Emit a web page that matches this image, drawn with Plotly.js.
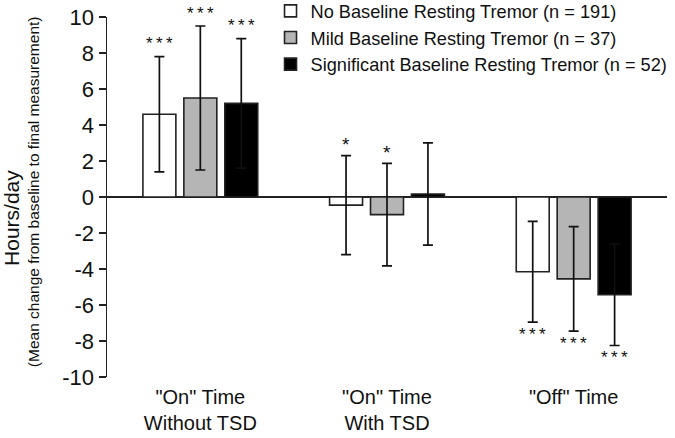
<!DOCTYPE html>
<html>
<head>
<meta charset="utf-8">
<script src="https://cdn.plot.ly/plotly-3.0.1.min.js"></script>
<style>html,body{margin:0;padding:0;background:#fff;}#chart{width:675px;height:438px;}</style>
</head>
<body>
<div id="chart"></div>
<script>
// ---- data ----
var categories = ['"On" Time<br>Without TSD', '"On" Time<br>With TSD', '"Off" Time'];
var seriesNames = [
  'No Baseline Resting Tremor (n = 191)',
  'Mild Baseline Resting Tremor (n = 37)',
  'Significant Baseline Resting Tremor (n = 52)'
];
var noTremorMean = [4.6, -0.45, -4.15];
var noTremorErr = [3.2, 2.75, 2.8];
var mildTremorMean = [5.5, -0.98, -4.55];
var mildTremorErr = [4.0, 2.85, 2.9];
var sigTremorMean = [5.2, 0.17, -5.43];
var sigTremorErr = [3.6, 2.84, 2.82];
var noTremorSig = ['***', '*', '***'];
var mildTremorSig = ['***', '*', '***'];
var sigTremorSig = ['***', '', '***'];
var sigAbove = [true, true, false];
var yTickVals = [10, 8, 6, 4, 2, 0, -2, -4, -6, -8, -10];
var yTickText = ['10', '8', '6', '4', '2', '0', '-2', '-4', '-6', '-8', '-10'];

// ---- styles ----
var fills = ['#ffffff', '#b5b5b5', '#000000'];
var FONT = '"Liberation Sans", Arial, Helvetica, sans-serif';
var bargap = 0.342, bargroupgap = 0.195;
var means = [noTremorMean, mildTremorMean, sigTremorMean];
var errs = [noTremorErr, mildTremorErr, sigTremorErr];
var sigs = [noTremorSig, mildTremorSig, sigTremorSig];
var catIdx = categories.map(function (_, i) { return i; });

var traces = means.map(function (m, j) {
  return {
    type: 'bar', name: seriesNames[j], x: catIdx, y: m,
    marker: { color: fills[j], line: { color: '#222', width: 1.6 } },
    error_y: { type: 'data', array: errs[j], visible: true, color: '#111', thickness: 1.7, width: 5 },
    hoverinfo: 'skip'
  };
});

var slot = (1 - bargap) / means.length;
var annotations = [];
means.forEach(function (m, j) {
  m.forEach(function (v, i) {
    var s = sigs[j][i];
    if (!s) return;
    var up = sigAbove[i];
    var yv = up ? v + errs[j][i] : v - errs[j][i];
    annotations.push({
      xref: 'x', yref: 'y', x: i + (j - (means.length - 1) / 2) * slot, y: yv,
      text: s.split('').join('\u2009'), showarrow: false, yanchor: 'middle',
      yshift: up ? (s.length > 1 ? 13 : 11) : -12,
      font: { family: FONT, size: s.length > 1 ? 17 : 19, color: '#111' }
    });
  });
});
annotations.push({
  xref: 'paper', yref: 'paper', x: -0.1695, y: 0.442, text: 'Hours/day', textangle: -90,
  showarrow: false, xanchor: 'center', yanchor: 'middle',
  font: { family: FONT, size: 21, color: '#111' }
});
annotations.push({
  xref: 'paper', yref: 'paper', x: -0.13, y: 0.514,
  text: '(Mean change from baseline to final measurement)', textangle: -90,
  showarrow: false, xanchor: 'center', yanchor: 'middle',
  font: { family: FONT, size: 15.5, color: '#111' }
});

var layout = {
  width: 675, height: 438,
  margin: { l: 107, r: 8, t: 17, b: 61, autoexpand: false },
  paper_bgcolor: '#fff', plot_bgcolor: '#fff',
  barmode: 'group', bargap: bargap, bargroupgap: bargroupgap,
  font: { family: FONT, color: '#111' },
  showlegend: true,
  legend: {
    x: 0.292, y: 1.068, xanchor: 'left', yanchor: 'top',
    font: { family: FONT, size: 18.2, color: '#111' },
    bgcolor: 'rgba(0,0,0,0)', itemwidth: 30, tracegroupgap: 0
  },
  xaxis: {
    range: [-0.5, 2.5], tickvals: catIdx, ticktext: categories,
    showline: false, showgrid: false, zeroline: false, ticks: '',
    tickfont: { family: FONT, size: 20, color: '#111' }, ticklabelstandoff: 6,
    fixedrange: true
  },
  yaxis: {
    range: [-10, 10], tickvals: yTickVals, ticktext: yTickText,
    showline: true, linecolor: '#222', linewidth: 1.5,
    ticks: 'outside', ticklen: 7, tickwidth: 1.5, tickcolor: '#222',
    showgrid: false, zeroline: true, zerolinecolor: '#222', zerolinewidth: 1.5,
    tickfont: { family: FONT, size: 22, color: '#111' }, fixedrange: true
  },
  annotations: annotations
};

Plotly.newPlot('chart', traces, layout, { displayModeBar: false, staticPlot: true });
</script>
</body>
</html>
